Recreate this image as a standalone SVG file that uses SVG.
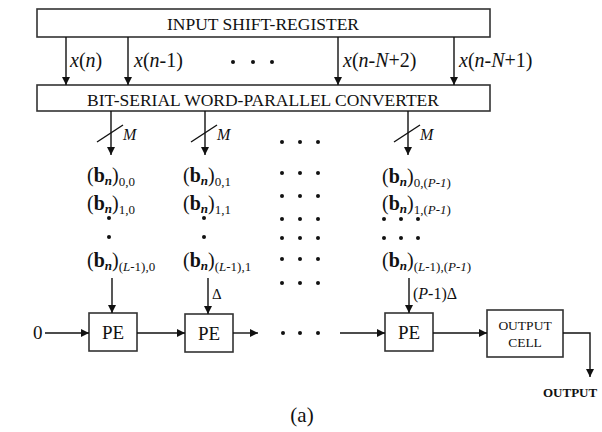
<svg xmlns="http://www.w3.org/2000/svg" width="602" height="432" viewBox="0 0 602 432">
<style>
text{font-family:"Liberation Serif","Times New Roman",serif;fill:#111}
.box{fill:#fff;stroke:#333;stroke-width:1.6}
.ln{fill:none;stroke:#111;stroke-width:1.4}
.t{font-size:17.5px}
.xl{font-size:20px}
.bl{font-size:20px}
.sub{font-size:13px}
.it{font-style:italic}
.bd{font-weight:bold}
.dot{fill:#111}
</style>
<defs>
<marker id="ah" viewBox="0 0 10 10" refX="10" refY="5" markerWidth="8" markerHeight="8" markerUnits="userSpaceOnUse" orient="auto">
<path d="M0,0 L10,5 L0,10 z" fill="#111"/>
</marker>
</defs>
<rect width="602" height="432" fill="#fff"/>

<g id="input-shift-register">
<rect class="box" x="37" y="9" width="453" height="28"/>
<text class="t" x="263" y="30" text-anchor="middle">INPUT SHIFT-REGISTER</text>
</g>

<g id="converter">
<rect class="box" x="37" y="85" width="453" height="26"/>
<text class="t" x="263" y="106" text-anchor="middle">BIT-SERIAL WORD-PARALLEL CONVERTER</text>
</g>

<g id="pe1">
<rect class="box" x="89" y="313" width="48" height="38"/>
<text x="113" y="339" font-size="19" text-anchor="middle">PE</text>
</g>
<g id="pe2">
<rect class="box" x="185" y="314" width="48" height="38"/>
<text x="209" y="340" font-size="19" text-anchor="middle">PE</text>
</g>
<g id="pe3">
<rect class="box" x="385" y="313" width="48" height="38"/>
<text x="409" y="339" font-size="19" text-anchor="middle">PE</text>
</g>
<g id="output-cell">
<rect class="box" x="487" y="310" width="76" height="47"/>
<text x="525" y="330" font-size="13.5" text-anchor="middle">OUTPUT</text>
<text x="525" y="347" font-size="13.5" text-anchor="middle">CELL</text>
</g>

<g id="connectors">
<line class="ln" x1="66" y1="37" x2="66" y2="85" marker-end="url(#ah)"/>
<line class="ln" x1="128" y1="37" x2="128" y2="85" marker-end="url(#ah)"/>
<line class="ln" x1="338" y1="37" x2="338" y2="85" marker-end="url(#ah)"/>
<line class="ln" x1="454" y1="37" x2="454" y2="85" marker-end="url(#ah)"/>
<line class="ln" x1="111" y1="111" x2="111" y2="155" marker-end="url(#ah)"/>
<line class="ln" x1="97" y1="142" x2="123" y2="125"/>
<line class="ln" x1="205" y1="111" x2="205" y2="155" marker-end="url(#ah)"/>
<line class="ln" x1="191" y1="142" x2="217" y2="125"/>
<line class="ln" x1="408" y1="111" x2="408" y2="155" marker-end="url(#ah)"/>
<line class="ln" x1="394" y1="142" x2="420" y2="125"/>
<line class="ln" x1="112" y1="278" x2="112" y2="313" marker-end="url(#ah)"/>
<line class="ln" x1="208" y1="278" x2="208" y2="314" marker-end="url(#ah)"/>
<line class="ln" x1="409" y1="278" x2="409" y2="313" marker-end="url(#ah)"/>
<line class="ln" x1="45" y1="333" x2="89" y2="333" marker-end="url(#ah)"/>
<line class="ln" x1="137" y1="333" x2="185" y2="333" marker-end="url(#ah)"/>
<line class="ln" x1="233" y1="333" x2="258" y2="333" marker-end="url(#ah)"/>
<line class="ln" x1="340" y1="333" x2="385" y2="333" marker-end="url(#ah)"/>
<line class="ln" x1="433" y1="333" x2="487" y2="333" marker-end="url(#ah)"/>
<polyline class="ln" points="563,333 590,333 590,377" marker-end="url(#ah)"/>
</g>

<g id="labels">
<text class="xl" x="70" y="67"><tspan class="it">x</tspan>(<tspan class="it">n</tspan>)</text>
<text class="xl" x="134" y="67"><tspan class="it">x</tspan>(<tspan class="it">n</tspan>-1)</text>
<text class="xl" x="343" y="67"><tspan class="it">x</tspan>(<tspan class="it">n</tspan>-<tspan class="it">N</tspan>+2)</text>
<text class="xl" x="459" y="67"><tspan class="it">x</tspan>(<tspan class="it">n</tspan>-<tspan class="it">N</tspan>+1)</text>
<circle class="dot" cx="233" cy="62" r="2"/>
<circle class="dot" cx="253" cy="62" r="2"/>
<circle class="dot" cx="272" cy="62" r="2"/>

<text x="123" y="140" font-size="16" class="it">M</text>
<text x="217" y="140" font-size="16" class="it">M</text>
<text x="420" y="140" font-size="16" class="it">M</text>

<text class="bl" x="87" y="182">(<tspan class="bd">b</tspan><tspan class="sub it bd" dy="3">n</tspan><tspan dy="-3">)</tspan><tspan class="sub" dy="4">0,0</tspan></text>
<text class="bl" x="87" y="210">(<tspan class="bd">b</tspan><tspan class="sub it bd" dy="3">n</tspan><tspan dy="-3">)</tspan><tspan class="sub" dy="4">1,0</tspan></text>
<circle class="dot" cx="109" cy="218" r="2"/>
<circle class="dot" cx="109" cy="237" r="2"/>
<text class="bl" x="87" y="267">(<tspan class="bd">b</tspan><tspan class="sub it bd" dy="3">n</tspan><tspan dy="-3">)</tspan><tspan class="sub" dy="4">(<tspan class="it">L</tspan>-1),0</tspan></text>

<text class="bl" x="183" y="182">(<tspan class="bd">b</tspan><tspan class="sub it bd" dy="3">n</tspan><tspan dy="-3">)</tspan><tspan class="sub" dy="4">0,1</tspan></text>
<text class="bl" x="183" y="210">(<tspan class="bd">b</tspan><tspan class="sub it bd" dy="3">n</tspan><tspan dy="-3">)</tspan><tspan class="sub" dy="4">1,1</tspan></text>
<circle class="dot" cx="204" cy="218" r="2"/>
<circle class="dot" cx="204" cy="237" r="2"/>
<text class="bl" x="183" y="267">(<tspan class="bd">b</tspan><tspan class="sub it bd" dy="3">n</tspan><tspan dy="-3">)</tspan><tspan class="sub" dy="4">(<tspan class="it">L</tspan>-1),1</tspan></text>

<text class="bl" x="382" y="183">(<tspan class="bd">b</tspan><tspan class="sub it bd" dy="3">n</tspan><tspan dy="-3">)</tspan><tspan class="sub" dy="4">0,(<tspan class="it">P</tspan>-<tspan class="it">1</tspan>)</tspan></text>
<text class="bl" x="382" y="210">(<tspan class="bd">b</tspan><tspan class="sub it bd" dy="3">n</tspan><tspan dy="-3">)</tspan><tspan class="sub" dy="4">1,(<tspan class="it">P</tspan>-<tspan class="it">1</tspan>)</tspan></text>
<circle class="dot" cx="384" cy="219" r="2"/>
<circle class="dot" cx="401" cy="219" r="2"/>
<circle class="dot" cx="418" cy="219" r="2"/>
<circle class="dot" cx="384" cy="238" r="2"/>
<circle class="dot" cx="401" cy="238" r="2"/>
<circle class="dot" cx="418" cy="238" r="2"/>
<text class="bl" x="382" y="267">(<tspan class="bd">b</tspan><tspan class="sub it bd" dy="3">n</tspan><tspan dy="-3">)</tspan><tspan class="sub" dy="4">(<tspan class="it">L</tspan>-1),(<tspan class="it">P</tspan>-<tspan class="it">1</tspan>)</tspan></text>

<g class="dot">
<circle cx="282" cy="142" r="2"/><circle cx="300" cy="142" r="2"/><circle cx="318" cy="142" r="2"/>
<circle cx="282" cy="173" r="2"/><circle cx="300" cy="173" r="2"/><circle cx="318" cy="173" r="2"/>
<circle cx="282" cy="196" r="2"/><circle cx="300" cy="196" r="2"/><circle cx="318" cy="196" r="2"/>
<circle cx="282" cy="219" r="2"/><circle cx="300" cy="219" r="2"/><circle cx="318" cy="219" r="2"/>
<circle cx="282" cy="238" r="2"/><circle cx="300" cy="238" r="2"/><circle cx="318" cy="238" r="2"/>
<circle cx="282" cy="259" r="2"/><circle cx="300" cy="259" r="2"/><circle cx="318" cy="259" r="2"/>
<circle cx="282" cy="283" r="2"/><circle cx="300" cy="283" r="2"/><circle cx="318" cy="283" r="2"/>
<circle cx="283" cy="333" r="2"/><circle cx="300" cy="333" r="2"/><circle cx="318" cy="333" r="2"/>
</g>

<text x="212" y="299" font-size="15">Δ</text>
<text x="413" y="299" font-size="16">(<tspan class="it">P</tspan>-1)Δ</text>
<text x="33" y="339" font-size="19">0</text>
<text x="543" y="397" font-size="13" class="bd">OUTPUT</text>
<text x="302" y="422" font-size="21" text-anchor="middle">(a)</text>
</g>
</svg>
